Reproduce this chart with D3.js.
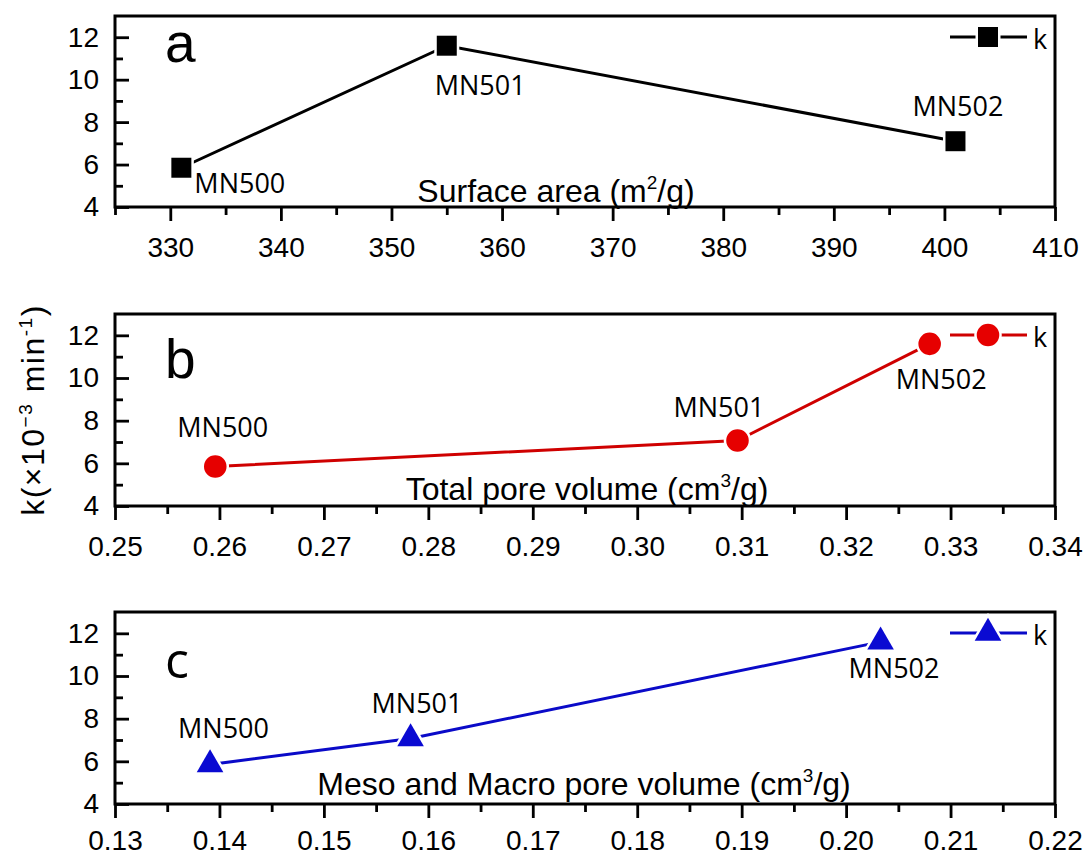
<!DOCTYPE html>
<html>
<head>
<meta charset="utf-8">
<script src="https://cdn.jsdelivr.net/npm/d3@7"></script>
<style>
  body { margin: 0; background: #fff; }
  .tick text { font-family: "Liberation Sans", Arial, sans-serif; font-size: 28px; fill: #000; }
  .lbl { font-family: "Open Sans", "Noto Sans", sans-serif; font-size: 27px; fill: #000; }
  .ttl { font-family: "Liberation Sans", Arial, sans-serif; font-size: 32px; fill: #000; }
</style>
</head>
<body>
<div id="chart"></div>
<script>
// sample names (same order in every panel)
const samples = ["MN500", "MN501", "MN502"];

// panel a : surface area
const surfaceArea = [331, 355, 401];
const kSurface = [5.85, 11.6, 7.1];
// panel b : total pore volume
const totalPore = [0.2596, 0.3096, 0.328];
const kTotal = [5.85, 7.07, 11.6];
// panel c : meso and macro pore volume
const mesoMacroPore = [0.1391, 0.1583, 0.2033];
const kMeso = [5.85, 7.07, 11.6];

// ticks
const yTicks = [4, 6, 8, 10, 12];
const yMinor = [5, 7, 9, 11];
const ticksA = [330, 340, 350, 360, 370, 380, 390, 400, 410];
const minorA = [325, 335, 345, 355, 365, 375, 385, 395, 405];
const ticksB = [0.25, 0.26, 0.27, 0.28, 0.29, 0.30, 0.31, 0.32, 0.33, 0.34];
const minorB = [0.255, 0.265, 0.275, 0.285, 0.295, 0.305, 0.315, 0.325, 0.335];
const ticksC = [0.13, 0.14, 0.15, 0.16, 0.17, 0.18, 0.19, 0.20, 0.21, 0.22];
const minorC = [0.135, 0.145, 0.155, 0.165, 0.175, 0.185, 0.195, 0.205, 0.215];

const size = {
    width: 1085,
    height: 857,
    left: 115,
    right: 1055,
};

const panels = [
    {
        letter: "a", top: 16, bottom: 207, xDomain: [325, 410],
        xs: surfaceArea, ks: kSurface, majors: ticksA, minors: minorA,
        fmt: d3.format("d"), color: "#000", lineColor: "#000", symbol: d3.symbolSquare, symSize: 400,
        title: ["Surface area (m", "2", "/g)"], titleX: 556, titleY: 202, pad: 16,
        offsets: [[13, 25], [-12, 49], [-43, -25]],
        letterFont: "Liberation Sans", letterSize: 55, letterY: 62,
    },
    {
        letter: "b", top: 314, bottom: 506, xDomain: [0.25, 0.34],
        xs: totalPore, ks: kTotal, majors: ticksB, minors: minorB,
        fmt: d3.format(".2f"), color: "#e60000", lineColor: "#cf0000", symbol: d3.symbolCircle, symSize: 400,
        title: ["Total pore volume (cm", "3", "/g)"], titleX: 587, titleY: 500, pad: 16,
        offsets: [[-38, -30], [-64, -24], [-34, 45]],
        letterFont: "Liberation Sans", letterSize: 55, letterY: 378,
    },
    {
        letter: "c", top: 612, bottom: 804, xDomain: [0.13, 0.22],
        xs: mesoMacroPore, ks: kMeso, majors: ticksC, minors: minorC,
        fmt: d3.format(".2f"), color: "#0a0ad2", lineColor: "#0a0ac8", symbol: d3.symbolTriangle, symSize: 306,
        title: ["Meso and Macro pore volume (cm", "3", "/g)"], titleX: 584, titleY: 795, pad: 12,
        offsets: [[-32, -27], [-39, -26], [-32, 36]],
        letterFont: "Open Sans", letterSize: 50, letterY: 678,
    },
];

const drawPanel = function(svg, p) {
    const x = d3.scaleLinear().domain(p.xDomain).range([size.left, size.right]);
    const y = d3.scaleLinear().domain([4, 13]).range([p.bottom, p.top]);
    const g = svg.append("g");

    // x axis, major + minor ticks pointing out
    const xMaj = g.append("g").attr("transform", `translate(0,${p.bottom})`)
        .call(d3.axisBottom(x).tickValues(p.majors).tickFormat(p.fmt)
            .tickSizeInner(14).tickSizeOuter(0).tickPadding(p.pad));
    const xMin = g.append("g").attr("transform", `translate(0,${p.bottom})`)
        .call(d3.axisBottom(x).tickValues(p.minors).tickFormat(() => "")
            .tickSizeInner(8).tickSizeOuter(0));

    // y axis, ticks pointing in
    const yMaj = g.append("g").attr("transform", `translate(${size.left},0)`)
        .call(d3.axisLeft(y).tickValues(yTicks)
            .tickSizeInner(-14).tickSizeOuter(0).tickPadding(16));
    const yMin = g.append("g").attr("transform", `translate(${size.left},0)`)
        .call(d3.axisLeft(y).tickValues(yMinor).tickFormat(() => "")
            .tickSizeInner(-8).tickSizeOuter(0));

    [xMaj, xMin, yMaj, yMin].forEach((a) => {
        a.select(".domain").remove();
        a.attr("font-family", null).attr("font-size", null);
        a.selectAll("line").attr("stroke-width", 2.8);
    });

    // frame
    g.append("rect")
        .attr("x", size.left).attr("y", p.top)
        .attr("width", size.right - size.left).attr("height", p.bottom - p.top)
        .attr("fill", "none").attr("stroke", "#000").attr("stroke-width", 3);

    // axis title with superscript
    const t = g.append("text").attr("class", "ttl")
        .attr("x", p.titleX).attr("y", p.titleY).attr("text-anchor", "middle");
    t.append("tspan").text(p.title[0]);
    t.append("tspan").attr("dy", -13).attr("font-size", 19).text(p.title[1]);
    t.append("tspan").attr("dy", 13).text(p.title[2]);

    // panel letter
    g.append("text")
        .attr("x", 165).attr("y", p.letterY)
        .attr("font-family", p.letterFont).attr("font-size", p.letterSize)
        .text(p.letter);

    const pts = p.xs.map((v, i) => [v, p.ks[i]]);
    const line = d3.line().x((d) => x(d[0])).y((d) => y(d[1]));
    g.append("path")
        .attr("d", line(pts))
        .attr("fill", "none").attr("stroke", p.lineColor).attr("stroke-width", 3);

    const sym = d3.symbol().type(p.symbol).size(p.symSize);
    g.selectAll(".pt").data(pts).enter().append("path")
        .attr("class", "pt")
        .attr("d", sym)
        .attr("transform", (d) => `translate(${x(d[0])},${y(d[1])})`)
        .attr("fill", p.color)
        .attr("stroke", "#fff").attr("stroke-width", 5)
        .attr("paint-order", "stroke");

    g.selectAll(".lbl").data(pts).enter().append("text")
        .attr("class", "lbl")
        .attr("x", (d, i) => x(d[0]) + p.offsets[i][0])
        .attr("y", (d, i) => y(d[1]) + p.offsets[i][1])
        .text((d, i) => samples[i]);

    // legend
    const ly = p.top + 21;
    g.append("line")
        .attr("x1", 950).attr("x2", 1027).attr("y1", ly).attr("y2", ly)
        .attr("stroke", p.lineColor).attr("stroke-width", 3);
    g.append("path")
        .attr("d", sym)
        .attr("transform", `translate(988,${ly})`)
        .attr("fill", p.color)
        .attr("stroke", "#fff").attr("stroke-width", 5)
        .attr("paint-order", "stroke");
    g.append("text").attr("class", "lbl")
        .attr("x", 1033).attr("y", ly + 12)
        .attr("font-size", 31)
        .text("k");
};

const drawChart = function() {
    const svg = d3.select("#chart").append("svg")
        .attr("width", size.width).attr("height", size.height)
        .style("display", "block");
    svg.append("rect").attr("width", size.width).attr("height", size.height).attr("fill", "#fff");

    panels.forEach((p) => drawPanel(svg, p));

    // shared y title
    const yt = svg.append("text").attr("class", "ttl")
        .attr("font-size", 31)
        .attr("text-anchor", "middle")
        .attr("letter-spacing", 1.5)
        .attr("transform", "translate(44,410) rotate(-90)");
    yt.append("tspan").text("k(\u00d710");
    yt.append("tspan").attr("dy", -12).attr("font-size", 19).text("\u22123");
    yt.append("tspan").attr("dy", 12).text(" min");
    yt.append("tspan").attr("dy", -12).attr("font-size", 19).text("-1");
    yt.append("tspan").attr("dy", 12).text(")");
};

drawChart();
</script>
</body>
</html>
